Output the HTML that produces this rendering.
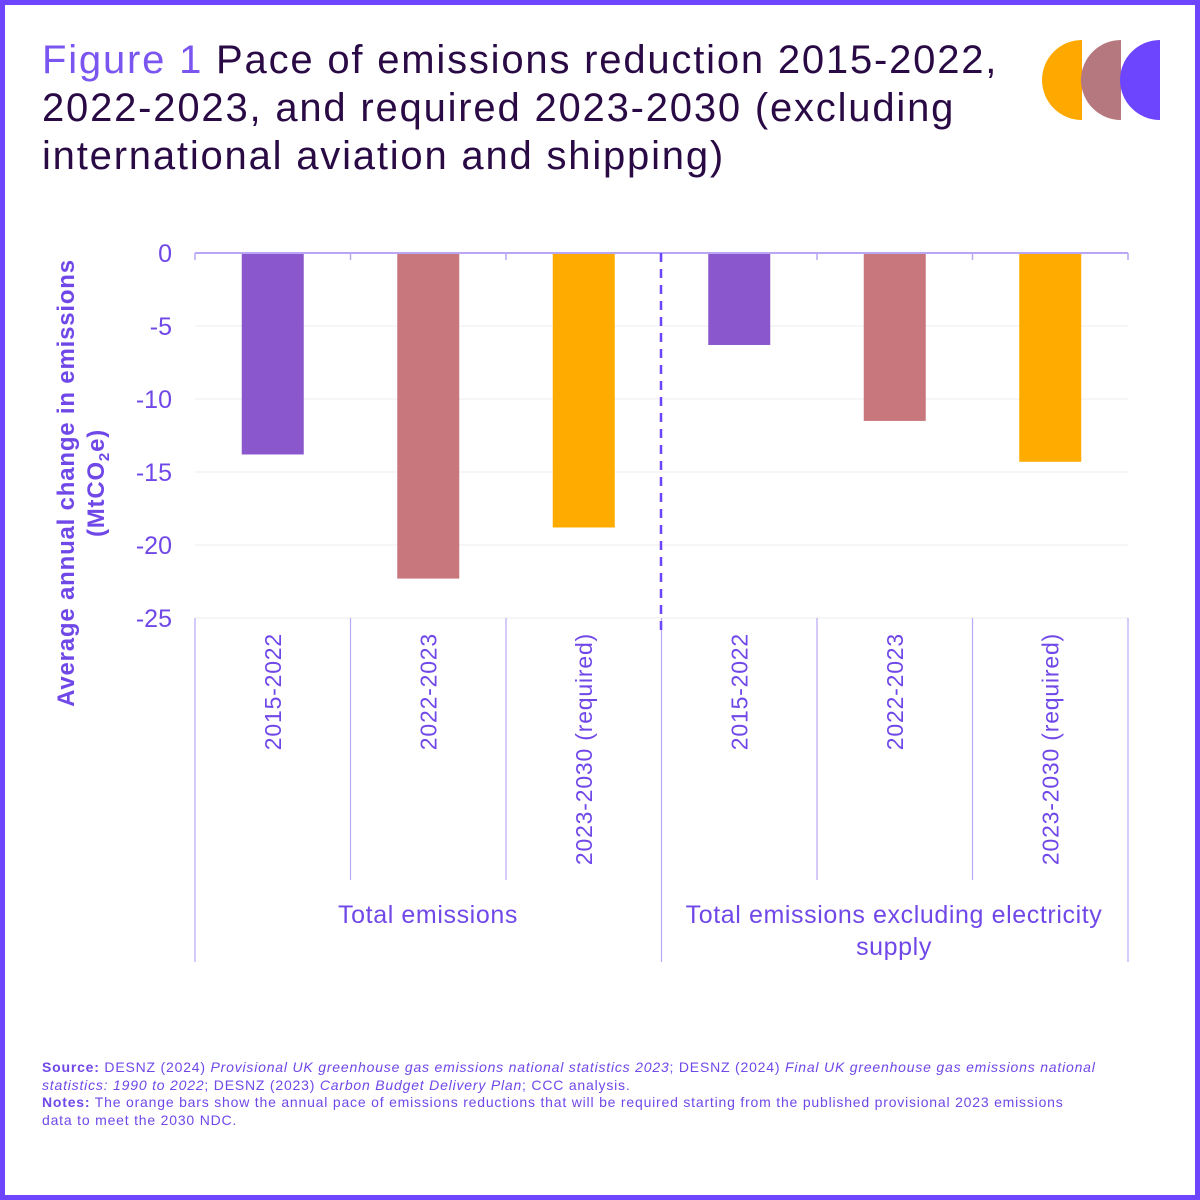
<!DOCTYPE html>
<html><head><meta charset="utf-8">
<style>
html,body{margin:0;padding:0;background:#fff;}
body{width:1200px;height:1200px;overflow:hidden;position:relative;font-family:"Liberation Sans",sans-serif;}
#frame{position:absolute;left:0;top:0;width:1190px;height:1190px;border:5px solid #6e45ff;}
#title{position:absolute;left:42px;top:36px;width:1000px;font-size:40px;line-height:48px;color:#2a0a45;white-space:nowrap;letter-spacing:1.8px;}
#title .fig{color:#7a55f0;}
#notes{position:absolute;left:42px;top:1059px;width:1130px;font-size:14px;line-height:17.5px;color:#7048e8;white-space:nowrap;letter-spacing:0.8px;}
</style></head>
<body>
<div id="frame"></div>
<div id="title"><span class="fig">Figure 1</span> Pace of emissions reduction 2015-2022,<br>2022-2023, and required 2023-2030 (excluding<br>international aviation and shipping)</div>
<svg style="position:absolute;left:1040px;top:38px" width="125" height="84">
<path d="M42,2 A40,40 0 0 0 42,82 Z" fill="#ffa800"/>
<path d="M81,2 A40,40 0 0 0 81,82 Z" fill="#b5787e"/>
<path d="M120,2 A40,40 0 0 0 120,82 Z" fill="#6e45ff"/>
</svg>
<svg id="chart" style="position:absolute;left:0;top:0" width="1200" height="1050"></svg>
<div id="notes"><b>Source:</b> DESNZ (2024) <i>Provisional UK greenhouse gas emissions national statistics 2023</i>; DESNZ (2024) <i>Final UK greenhouse gas emissions national</i><br><i>statistics: 1990 to 2022</i>; DESNZ (2023) <i>Carbon Budget Delivery Plan</i>; CCC analysis.<br><b>Notes:</b> The orange bars show the annual pace of emissions reductions that will be required starting from the published provisional 2023 emissions<br>data to meet the 2030 NDC.</div>
<script>
const categories=["2015-2022","2022-2023","2023-2030 (required)","2015-2022","2022-2023","2023-2030 (required)"];
const values=[-13.8,-22.3,-18.8,-6.3,-11.5,-14.3];
const colors=["#8a58cc","#c8777c","#ffab00","#8a58cc","#c8777c","#ffab00"];
const groups=["Total emissions","Total emissions excluding electricity supply"];
const yTicks=[0,-5,-10,-15,-20,-25];
const NS="http://www.w3.org/2000/svg";
const svg=document.getElementById('chart');
const x0=195,x1=1128,yTop=253,yBot=618,yMin=-25,yMax=0;
const y=v=>yTop+(yMax-v)/(yMax-yMin)*(yBot-yTop);
const cw=(x1-x0)/categories.length;
const cx=i=>x0+cw*(i+0.5);
function mk(t,a){const e=document.createElementNS(NS,t);for(const k in a)e.setAttribute(k,a[k]);svg.appendChild(e);return e;}
yTicks.forEach(t=>{
  if(t!==0){const g=mk('line',{x1:x0,x2:x1,y1:y(t),y2:y(t),stroke:'#ececf2','stroke-width':1});
  
  }
  const l=mk('text',{x:172,y:y(t)+9,'text-anchor':'end','font-size':25,fill:'#7048e8'});
  l.textContent=t;
  
  
});
values.forEach((v,i)=>{
  const b=mk('rect',{x:cx(i)-31,y:y(0),width:62,height:y(v)-y(0),fill:colors[i]});
  
  
  const t=mk('text',{transform:`translate(${cx(i)+8},633) rotate(-90)`,'text-anchor':'end','font-size':23,'letter-spacing':'0.8',fill:'#7048e8'});
  t.textContent=categories[i];
  
  
});
const ax=mk('line',{x1:x0,x2:x1,y1:yTop,y2:yTop,stroke:'#b9a6f5','stroke-width':2});


for(let i=0;i<=categories.length;i++){
  const xx=x0+cw*i;
  mk('line',{x1:xx,x2:xx,y1:yTop,y2:yTop+7,stroke:'#b9a6f5','stroke-width':1.5});
  const big=(i%3===0);
  const tl=mk('line',{x1:xx,x2:xx,y1:yBot,y2:big?962:880,stroke:'#b9a6f5','stroke-width':1.2});
  
  
}
const d=mk('line',{x1:661,x2:661,y1:yTop,y2:630,stroke:'#6e45ff','stroke-width':2.5,'stroke-dasharray':'9,7'});


const gl=[[428,923],[894,923]];
groups.forEach((g,i)=>{
  const t=mk('text',{x:gl[i][0],y:gl[i][1],'text-anchor':'middle','font-size':25,'letter-spacing':'0.6',fill:'#7048e8'});
  if(i===1){t.innerHTML='<tspan x="894" dy="0">Total emissions excluding electricity</tspan><tspan x="894" dy="32">supply</tspan>';}
  else t.textContent=g;
  
  
});
const yt=mk('text',{transform:'translate(74,483) rotate(-90)','text-anchor':'middle','font-size':24,'font-weight':'bold','letter-spacing':'0.8',fill:'#7048e8'});
yt.innerHTML='<tspan x="0" dy="0">Average annual change in emissions</tspan><tspan x="0" dy="30">(MtCO</tspan><tspan font-size="15" dy="5">2</tspan><tspan dy="-5">e)</tspan>';


</script>
</body></html>
